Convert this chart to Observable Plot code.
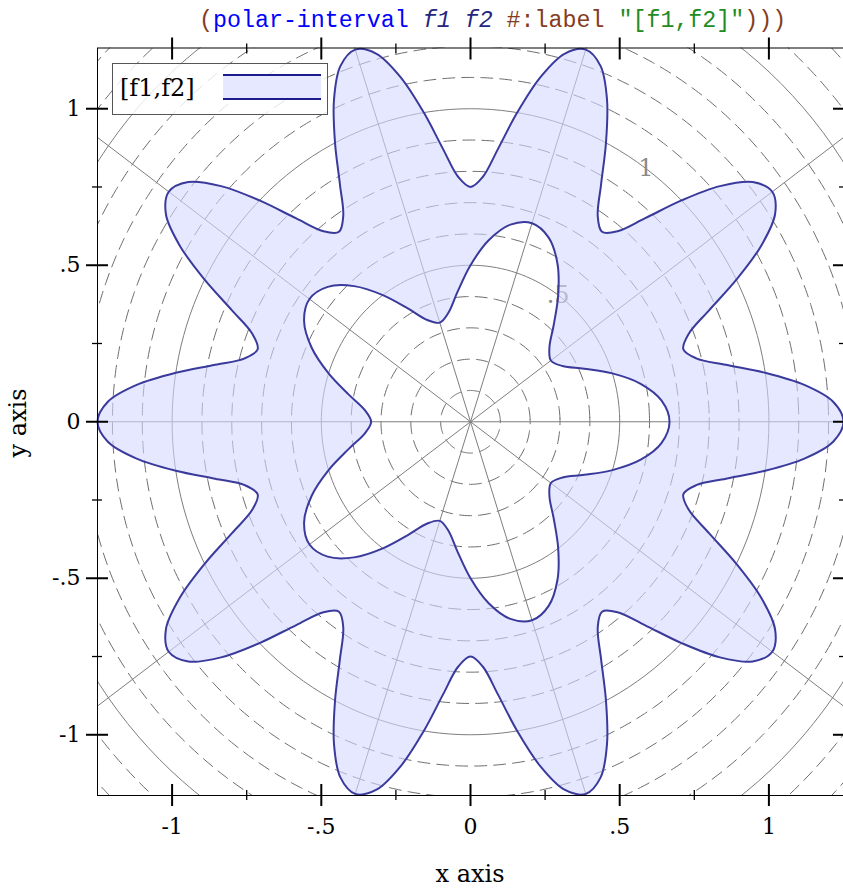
<!DOCTYPE html>
<html>
<head>
<meta charset="utf-8">
<script src="https://cdn.jsdelivr.net/npm/d3@7"></script>
<script src="https://cdn.jsdelivr.net/npm/@observablehq/plot@0.6"></script>
<style>
  html, body { margin: 0; padding: 0; background: #fff; overflow: hidden; }
  #wrap { position: relative; width: 843px; height: 888px; overflow: hidden; background: #fff; }
  #chart { position: absolute; left: 0; top: 0; }
  #title { position: absolute; left: 199px; top: 10px; font-family: "Liberation Mono", "DejaVu Sans Mono", monospace; font-size: 23.3px; line-height: 23.3px; white-space: pre; }
  .pn { color: #843c24; }
  .lk { color: #0000ff; }
  .va { color: #262680; font-style: italic; }
  .st { color: #228b22; }
  #legend { position: absolute; left: 112px; top: 63px; width: 216px; height: 52px; box-sizing: border-box; border: 1px solid #555; background: rgba(255,255,255,0.8); }
  #legend .lab { position: absolute; left: 7px; top: 11.6px; font-family: "DejaVu Serif", serif; font-size: 24px; line-height: 24px; white-space: pre; }
  #legend .sw { position: absolute; left: 110px; top: 10px; width: 98px; height: 26px; box-sizing: border-box; background: #e6e8ff; border-top: 2px solid #1c1c8c; border-bottom: 2px solid #1c1c8c; }
  .axt { position: absolute; font-family: "DejaVu Serif", serif; font-size: 24px; line-height: 24px; white-space: pre; }
  #xlab { left: 370px; width: 200px; text-align: center; top: 861.6px; }
  #ylab { left: 18px; top: 423px; transform: translate(-50%, -50%) rotate(-90deg); }
</style>
</head>
<body>
<div id="wrap">
  <div id="chart"></div>
  <div id="title"><span class="pn">(</span><span class="lk">polar-interval</span> <span class="va">f1</span> <span class="va">f2</span> <span class="pn">#:label</span> <span class="st">"[f1,f2]"</span><span class="pn">)))</span></div>
  <div id="legend"><span class="lab">[f1,f2]</span><span class="sw"></span></div>
  <div id="xlab" class="axt">x axis</div>
  <div id="ylab" class="axt">y axis</div>
</div>
<script>
// ---- data: outer radius f2(θ), sampled every 3 degrees from θ = 0 ----
const outerStepDeg = 3;
const outerR = [
  1.250, 1.217, 1.125, 1.000, 0.875, 0.783, 0.750, 0.783, 0.875, 1.000, 1.125, 1.217,
  1.250, 1.217, 1.125, 1.000, 0.875, 0.783, 0.750, 0.783, 0.875, 1.000, 1.125, 1.217,
  1.250, 1.217, 1.125, 1.000, 0.875, 0.783, 0.750, 0.783, 0.875, 1.000, 1.125, 1.217,
  1.250, 1.217, 1.125, 1.000, 0.875, 0.783, 0.750, 0.783, 0.875, 1.000, 1.125, 1.217,
  1.250, 1.217, 1.125, 1.000, 0.875, 0.783, 0.750, 0.783, 0.875, 1.000, 1.125, 1.217,
  1.250, 1.217, 1.125, 1.000, 0.875, 0.783, 0.750, 0.783, 0.875, 1.000, 1.125, 1.217,
  1.250, 1.217, 1.125, 1.000, 0.875, 0.783, 0.750, 0.783, 0.875, 1.000, 1.125, 1.217,
  1.250, 1.217, 1.125, 1.000, 0.875, 0.783, 0.750, 0.783, 0.875, 1.000, 1.125, 1.217,
  1.250, 1.217, 1.125, 1.000, 0.875, 0.783, 0.750, 0.783, 0.875, 1.000, 1.125, 1.217,
  1.250, 1.217, 1.125, 1.000, 0.875, 0.783, 0.750, 0.783, 0.875, 1.000, 1.125, 1.217
];
// ---- data: inner radius f1(θ), sampled every 6 degrees from θ = 0 ----
const innerStepDeg = 6;
const innerR = [
  0.667, 0.644, 0.583, 0.500, 0.417, 0.356, 0.333, 0.356, 0.417, 0.500, 0.583, 0.644,
  0.667, 0.644, 0.583, 0.500, 0.417, 0.356, 0.333, 0.356, 0.417, 0.500, 0.583, 0.644,
  0.667, 0.644, 0.583, 0.500, 0.417, 0.356, 0.333, 0.356, 0.417, 0.500, 0.583, 0.644,
  0.667, 0.644, 0.583, 0.500, 0.417, 0.356, 0.333, 0.356, 0.417, 0.500, 0.583, 0.644,
  0.667, 0.644, 0.583, 0.500, 0.417, 0.356, 0.333, 0.356, 0.417, 0.500, 0.583, 0.644
];
// ---- polar axes ----
const spokeAngles = [0, 36, 72, 108, 144, 180, 216, 252, 288, 324];
const majorRadii = [0.5, 1, 1.5];
const minorRadii = [0.1, 0.2, 0.3, 0.4, 0.6, 0.7, 0.8, 0.9, 1.1, 1.2, 1.3, 1.4, 1.6, 1.7];
const radialLabelR = [0.5, 1];
const radialLabels = [".5", "1"];
const radialLabelAngle = 54;
// ---- cartesian ticks ----
const majorTicks = [-1, -0.5, 0, 0.5, 1];
const majorTickLabels = ["-1", "-.5", "0", ".5", "1"];
const minorTicks = [-0.75, -0.25, 0.25, 0.75];
const xDomain = [-1.25, 1.25];
const yDomain = [-1.194, 1.194];

const rad = Math.PI / 180;
const polar = (r, deg) => ({x: r * Math.cos(deg * rad), y: r * Math.sin(deg * rad)});
const outerPts = outerR.map((r, i) => polar(r, i * outerStepDeg));
const innerPts = innerR.map((r, i) => polar(r, i * innerStepDeg));
const gap = {x: NaN, y: NaN};
const fillRows = [...outerPts, gap, ...innerPts.slice().reverse()];
const strokeRows = [...outerPts, gap, ...innerPts];

const circleAngles = d3.range(0, 360, 2);
const circleRows = (radii) => radii.flatMap(r => circleAngles.map(a => ({r, ...polar(r, a)})));
const labelOf = new Map(majorTicks.map((t, i) => [t, majorTickLabels[i]]));

const noText = () => "";
const chart = Plot.plot({
  width: 843,
  height: 888,
  marginLeft: 97,
  marginRight: 0,
  marginTop: 47.5,
  marginBottom: 93,
  x: {domain: xDomain},
  y: {domain: yDomain},
  style: {fontFamily: "DejaVu Serif, serif", fontSize: "22px", background: "white", color: "black"},
  marks: [
    Plot.line(circleRows(minorRadii), {x: "x", y: "y", z: "r", curve: "catmull-rom-closed", stroke: "#6e6e6e", strokeWidth: 1, strokeDasharray: "12,7", clip: true}),
    Plot.line(circleRows(majorRadii), {x: "x", y: "y", z: "r", curve: "catmull-rom-closed", stroke: "#7e7e7e", strokeWidth: 1, clip: true}),
    Plot.link(spokeAngles, {x1: 0, y1: 0, x2: a => polar(2, a).x, y2: a => polar(2, a).y, stroke: "#7e7e7e", strokeWidth: 1, clip: true}),
    Plot.text(radialLabelR, {x: r => polar(r, radialLabelAngle).x, y: r => polar(r, radialLabelAngle).y, text: (r, i) => radialLabels[i], fill: "#8a8a8a", fontSize: 24, textAnchor: "middle", lineAnchor: "middle"}),
    Plot.line(fillRows, {x: "x", y: "y", curve: "catmull-rom-closed", fill: "#d5d8ff", fillOpacity: 0.6, stroke: "none"}),
    Plot.line(strokeRows, {x: "x", y: "y", curve: "catmull-rom-closed", stroke: "#3a3a9c", strokeWidth: 2}),
    Plot.frame({stroke: "black", strokeWidth: 1}),
    // major ticks crossing the frame on all four sides
    Plot.axisX(majorTicks, {anchor: "bottom", tickSize: 22, dy: -11, strokeWidth: 2, tickFormat: noText, label: null}),
    Plot.axisX(majorTicks, {anchor: "top", tickSize: 22, dy: 11, strokeWidth: 2, tickFormat: noText, label: null}),
    Plot.axisY(majorTicks, {anchor: "left", tickSize: 22, dx: 11, strokeWidth: 2, tickFormat: noText, label: null}),
    Plot.axisY(majorTicks, {anchor: "right", tickSize: 22, dx: -11, strokeWidth: 2, tickFormat: noText, label: null}),
    // minor ticks
    Plot.axisX(minorTicks, {anchor: "bottom", tickSize: 10, dy: -5, strokeWidth: 1.3, tickFormat: noText, label: null}),
    Plot.axisX(minorTicks, {anchor: "top", tickSize: 10, dy: 5, strokeWidth: 1.3, tickFormat: noText, label: null}),
    Plot.axisY(minorTicks, {anchor: "left", tickSize: 10, dx: 5, strokeWidth: 1.3, tickFormat: noText, label: null}),
    Plot.axisY(minorTicks, {anchor: "right", tickSize: 10, dx: -5, strokeWidth: 1.3, tickFormat: noText, label: null}),
    // tick labels
    Plot.axisX(majorTicks, {anchor: "bottom", tickSize: 0, tickPadding: 23, tickFormat: d => labelOf.get(d), fontSize: 22, label: null}),
    Plot.axisY(majorTicks, {anchor: "left", tickSize: 0, tickPadding: 17, tickFormat: d => labelOf.get(d), fontSize: 22, label: null})
  ]
});
document.getElementById("chart").appendChild(chart);
</script>
</body>
</html>
